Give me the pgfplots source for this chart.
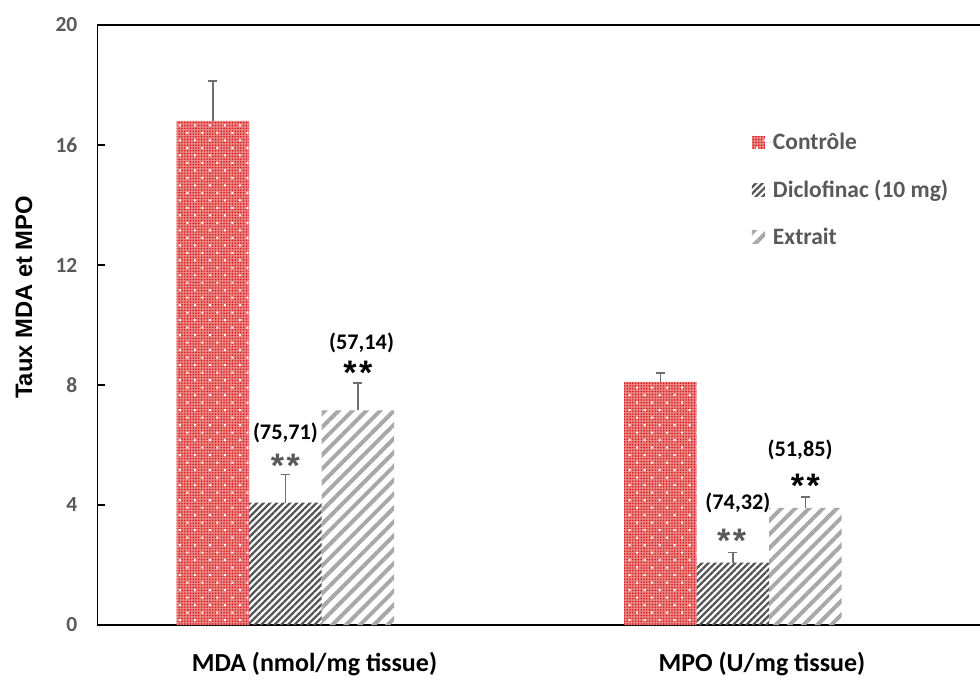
\documentclass[border=0pt]{standalone}
\usepackage{pgfplots}
\pgfplotsset{compat=1.18}
\usetikzlibrary{patterns.meta}
\usepackage{fontspec}
\setmainfont{Carlito}
\newfontfamily\arialfont{Liberation Sans}

\definecolor{tickgray}{HTML}{595959}
\definecolor{ctrlbase}{HTML}{EC8585}
\definecolor{ctrldot}{HTML}{D41A1A}
\definecolor{dicl}{HTML}{555555}
\definecolor{extr}{HTML}{A8A8A8}
\definecolor{errgray}{HTML}{6E6E6E}

\newcommand\tickfont{\fontsize{21.5}{24}\selectfont\bfseries}
\newcommand\legfont{\fontsize{23.5}{26}\selectfont\bfseries}
\newcommand\xlabfont{\fontsize{26}{30}\selectfont\bfseries}
\newcommand\annfont{\fontsize{22.3}{26}\selectfont\bfseries}
\newcommand\starfont{\arialfont\fontsize{34}{36}\selectfont\bfseries}
\newcommand\stars{*\kern2.5pt*}

\pgfplotsset{
  ctrl/.style={draw=none, fill=ctrlbase,
    postaction={pattern={Dots[distance=2.8pt,radius=0.9pt]}, pattern color=ctrldot},
    postaction={pattern={Dots[distance=10.6pt,radius=1.4pt,angle=45]}, pattern color=white}},
  diclo/.style={draw=none,
    pattern={Lines[angle=45,distance=4.7pt,line width=2.3pt]}, pattern color=dicl},
  extra/.style={draw=none,
    pattern={Lines[angle=45,distance=9.8pt,line width=4pt]}, pattern color=extr},
  errs/.style={error bars/.cd, y dir=plus, y explicit,
    error bar style={draw=errgray, line width=1.6pt},
    error mark options={rotate=90, mark size=4.5pt, draw=errgray, line width=1.6pt}},
}

\begin{document}
\begin{tikzpicture}
\useasboundingbox (-97.5pt,-55pt) rectangle (882.5pt,625pt);
\begin{axis}[
  at={(0pt,0pt)}, anchor=south west,
  scale only axis, width=882.5pt, height=600pt,
  xmin=-0.42, xmax=1.552, ymin=0, ymax=20,
  axis lines=left, axis line style={-, line width=1.6pt, black},
  clip=false,
  ytick={0,4,8,12,16,20},
  xtick={0,1},
  xticklabels={MDA (nmol/mg tissue), MPO (U/mg tissue)},
  x tick style={draw=none},
  y tick style={line width=1.3pt, black},
  tick align=inside, major tick length=7.5pt,
  /pgf/number format/assume math mode=true,
  yticklabel style={font=\tickfont, text=tickgray, anchor=east, inner sep=0pt, xshift=-20pt},
  xticklabel style={font=\xlabfont, text=black, anchor=base, inner sep=0pt, yshift=-46pt, xshift=29pt},
  ylabel={Taux MDA et MPO},
  every axis y label/.style={at={(axis description cs:-0.0833,0.546)}, anchor=center, rotate=90,
    font=\arialfont\fontsize{23.8}{26}\selectfont\bfseries},
  bar width=0.162,
  legend style={draw=none, fill=none, font=\legfont, text=tickgray,
    at={(axis description cs:0.738,0.823)}, anchor=north west,
    row sep=29pt, nodes={inner sep=0pt}},
  legend cell align=left,
  legend image code/.code={
    \path[#1] (0pt,-6.5pt) rectangle (13pt,6.5pt);
    \path (0pt,0pt) -- (21pt,0pt);
  },
]
% Contrôle
\addplot[ybar, bar shift=0, ctrl, errs] coordinates {
  (-0.162,16.8) +- (0,1.33)
  (0.838,8.1)   +- (0,0.30)
};
% Diclofinac (10 mg)
\addplot[ybar, bar shift=0, diclo, errs] coordinates {
  (0,4.08) +- (0,0.93)
  (1,2.08) +- (0,0.34)
};
% Extrait
\addplot[ybar, bar shift=0, extra, errs] coordinates {
  (0.162,7.15) +- (0,0.92)
  (1.162,3.90) +- (0,0.36)
};
\legend{Contrôle, Diclofinac (10 mg), Extrait}

% top border of the plot area
\draw[line width=1.6pt, black] (rel axis cs:0,1) -- (rel axis cs:1,1);

% inhibition percentages and significance marks
\node[font=\annfont] at (axis cs:0,6.4) {(75,71)};
\node[font=\starfont, text=tickgray] at (axis cs:0,5.3) {\stars};
\node[font=\annfont] at (axis cs:0.170,9.41) {(57,14)};
\node[font=\starfont] at (axis cs:0.162,8.4) {\stars};
\node[font=\annfont] at (axis cs:1.011,4.07) {(74,32)};
\node[font=\starfont, text=tickgray] at (axis cs:0.997,2.8) {\stars};
\node[font=\annfont] at (axis cs:1.150,5.83) {(51,85)};
\node[font=\starfont] at (axis cs:1.162,4.65) {\stars};
\end{axis}
\end{tikzpicture}
\end{document}
